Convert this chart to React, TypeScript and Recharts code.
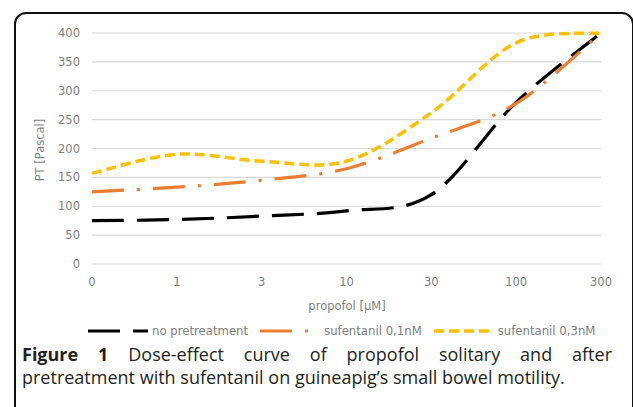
import React from "react";
import { LineChart, Line, XAxis, YAxis, CartesianGrid } from "recharts";

const doses = ["0", "1", "3", "10", "30", "100", "300"];
const noPretreatment = [75, 77, 83, 92, 120, 280, 400];
const sufentanil01 = [125, 133, 145, 165, 218, 278, 400];
const sufentanil03 = [157, 190, 178, 178, 262, 383, 400];
const yTicks = [0, 50, 100, 150, 200, 250, 300, 350, 400];

const data = doses.map((d, i) => ({
  dose: d,
  none: noPretreatment[i],
  s01: sufentanil01[i],
  s03: sufentanil03[i],
}));

const SERIES = [
  { key: "none", label: "no pretreatment", color: "#000000", dash: "32 13", width: 3.2 },
  { key: "s01", label: "sufentanil 0,1nM", color: "#ED7D31", dash: "32 13 3 13", width: 3.2 },
  { key: "s03", label: "sufentanil 0,3nM", color: "#FFC000", dash: "10 5", width: 3.5 },
];

// Excel-like smoothing (Catmull-Rom through the points)
function smoothCurve(context: any) {
  let pts: number[][] = [];
  return {
    areaStart() {},
    areaEnd() {},
    lineStart() {
      pts = [];
    },
    point(x: number, y: number) {
      pts.push([+x, +y]);
    },
    lineEnd() {
      const n = pts.length;
      if (!n) return;
      context.moveTo(pts[0][0], pts[0][1]);
      for (let i = 0; i < n - 1; i++) {
        const p0 = pts[i - 1] || pts[i];
        const p1 = pts[i];
        const p2 = pts[i + 1];
        const p3 = pts[i + 2] || p2;
        context.bezierCurveTo(
          p1[0] + (p2[0] - p0[0]) / 6,
          p1[1] + (p2[1] - p0[1]) / 6,
          p2[0] - (p3[0] - p1[0]) / 6,
          p2[1] - (p3[1] - p1[1]) / 6,
          p2[0],
          p2[1]
        );
      }
    },
  };
}

const FONT = "DejaVu Sans";
const GREY = "#7f7f7f";
const tickStyle = { fontSize: 11.5, fill: GREY, fontFamily: FONT };

export default function App() {
  return (
    <div
      style={{
        position: "absolute",
        left: 0,
        top: 0,
        width: 633,
        height: 407,
        overflow: "hidden",
        background: "#fff",
      }}
    >
      <div
        style={{
          position: "absolute",
          left: 14,
          top: 12,
          width: 616,
          height: 420,
          border: "2px solid #111",
          borderRadius: 12,
        }}
      />
      <div style={{ position: "absolute", left: 0, top: 0 }}>
        <LineChart
          width={633}
          height={320}
          data={data}
          margin={{ top: 33, right: 32, left: 52, bottom: 36 }}
        >
          <CartesianGrid vertical={false} stroke="#d9d9d9" strokeWidth={1.2} />
          <XAxis
            dataKey="dose"
            axisLine={false}
            tickLine={false}
            tickSize={0}
            tickMargin={14}
            height={20}
            padding={{ left: 0, right: 0 }}
            tick={tickStyle}
            interval={0}
          />
          <YAxis
            domain={[0, 400]}
            ticks={yTicks}
            axisLine={false}
            tickLine={false}
            tickSize={0}
            tickMargin={12}
            width={40}
            tick={tickStyle}
          />
          {SERIES.map((s) => (
            <Line
              key={s.key}
              dataKey={s.key}
              type={smoothCurve as any}
              stroke={s.color}
              strokeWidth={s.width}
              strokeDasharray={s.dash}
              dot={false}
              activeDot={false}
              isAnimationActive={false}
            />
          ))}
        </LineChart>
      </div>
      <div
        style={{
          position: "absolute",
          left: 40,
          top: 150,
          transform: "translate(-50%, -50%) rotate(-90deg)",
          fontFamily: FONT,
          fontSize: 11.5,
          color: GREY,
          whiteSpace: "nowrap",
        }}
      >
        PT [Pascal]
      </div>
      <div
        style={{
          position: "absolute",
          left: 347,
          top: 306,
          transform: "translate(-50%, -50%)",
          fontFamily: FONT,
          fontSize: 11.5,
          color: GREY,
          whiteSpace: "nowrap",
        }}
      >
        propofol [μM]
      </div>
      <div
        style={{
          position: "absolute",
          left: 88,
          top: 323,
          display: "flex",
          alignItems: "center",
          fontFamily: FONT,
          fontSize: 11.7,
          color: GREY,
          whiteSpace: "nowrap",
        }}
      >
        {SERIES.map((s) => (
          <div key={s.key} style={{ display: "flex", alignItems: "center", marginRight: 12 }}>
            <svg width={60} height={16} style={{ marginRight: 4 }}>
              <line
                x1={0}
                y1={8}
                x2={60}
                y2={8}
                stroke={s.color}
                strokeWidth={s.width}
                strokeDasharray={s.dash}
              />
            </svg>
            <span>{s.label}</span>
          </div>
        ))}
      </div>
      <div
        style={{
          position: "absolute",
          left: 22,
          top: 343,
          width: 590,
          fontFamily: "Open Sans",
          fontSize: 18,
          lineHeight: "23px",
          color: "#231f20",
        }}
      >
        <div style={{ textAlign: "justify", textAlignLast: "justify", whiteSpace: "nowrap" }}>
          <b>Figure 1</b> Dose-effect curve of propofol solitary and after
        </div>
        <div style={{ whiteSpace: "nowrap" }}>
          pretreatment with sufentanil on guineapig’s small bowel motility.
        </div>
      </div>
    </div>
  );
}
